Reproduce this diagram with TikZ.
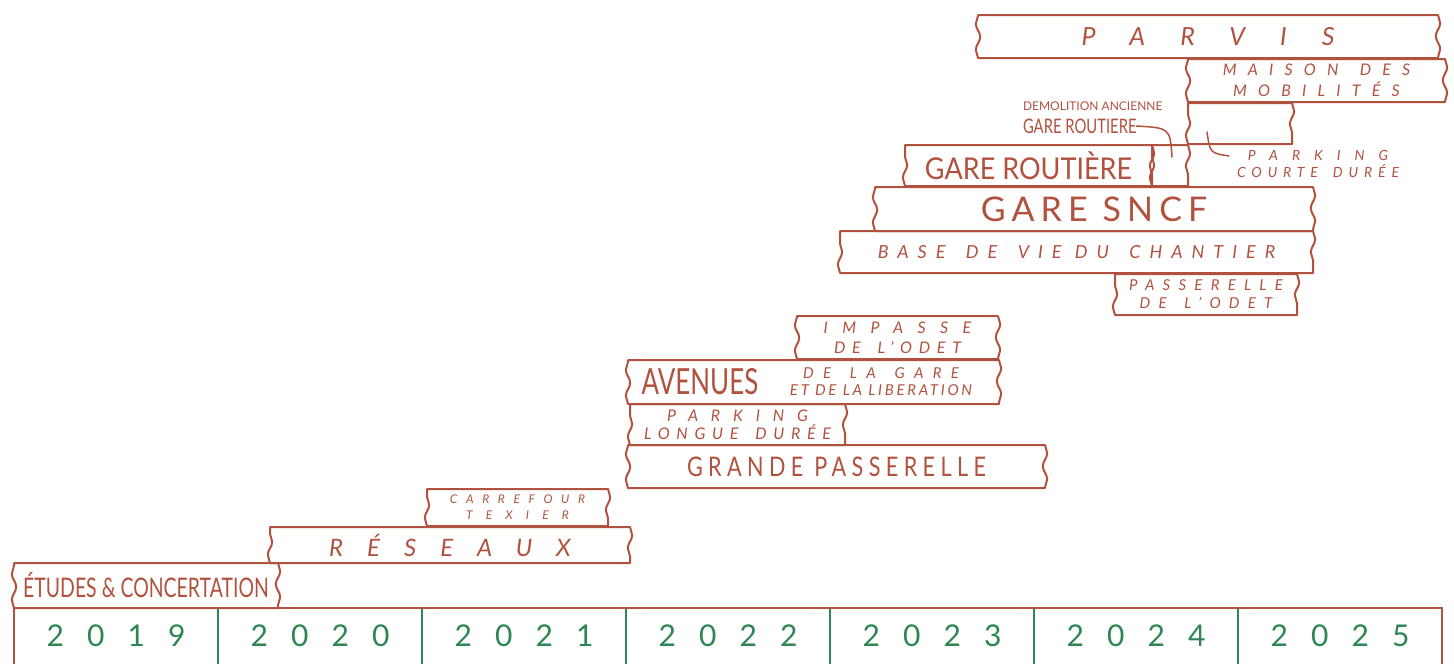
\documentclass[tikz,border=0pt]{standalone}
\usepackage{fontspec}
\setmainfont{Lato}
\usetikzlibrary{decorations.pathmorphing}
\definecolor{brick}{RGB}{177,82,62}
\definecolor{leaf}{RGB}{46,134,84}
\newcommand\ls[1]{\addfontfeature{LetterSpace=#1}}
\newcommand\fsz[2]{\fontsize{#1}{#2}\selectfont}
\newcommand\cond[1]{\addfontfeature{FakeStretch=#1}}
\newcommand\ws{\hspace{0.4em}}
\tikzset{
  wbox/.style={inner sep=0pt, outer sep=0pt, text=brick, align=center},
  wedge/.style={decoration={snake, segment length=26pt, amplitude=2.2pt}},
  bline/.style={draw=brick, line width=2pt, line join=round, line cap=round},
  leader/.style={draw=brick, line width=1.5pt, line cap=round},
  ycell/.style={inner sep=0pt, outer sep=0pt, minimum width=204pt, minimum height=56pt,
                text=leaf, font=\fsz{30}{30}\ls{77}},
  tline/.style={draw=brick, line width=2pt},
  gline/.style={draw=leaf, line width=2pt},
  lab/.style={inner sep=0pt, outer sep=0pt, text=brick, align=center},
}
% name, x1, y1, x2, y2, font, text
\newcommand\wb[7]{%
  \node[wbox, font=#6, minimum width={(#4-#2)*1pt}, minimum height={(#5-#3)*1pt}]
     (#1) at ({(#2+#4)/2},{(#3+#5)/2}) {#7};
  \draw[bline] (#1.north west) -- (#1.north east)
     decorate[wedge]{-- (#1.south east)} -- (#1.south west)
     decorate[wedge]{-- (#1.north west)};
}
\begin{document}
\begin{tikzpicture}[x=1pt, y=-1pt]
\useasboundingbox[fill=white] (0,0) rectangle (1454,664);

\wb{parvis}{978}{15}{1438}{58}{\itshape\fsz{25}{25}\ls{140}}{PARVIS}
\wb{maison}{1188}{59}{1445}{102}{\itshape\fsz{16}{21}\ls{70}}{MAISON\ws{} DES\\MOBILITÉS}
\wb{parkc}{1188}{103}{1292}{144}{\fsz{10}{10}}{}
\wb{demol}{1152}{145}{1188}{186}{\fsz{10}{10}}{}
\wb{routiere}{905}{145}{1152}{186}{\fsz{30}{30}\cond{0.9}}{GARE ROUTIÈRE}
\wb{sncf}{875}{187}{1313}{231}{\fsz{34}{34}\ls{18}}{GARE SNCF}
\wb{basevie}{840}{231}{1313}{273}{\itshape\fsz{18}{18}\ls{50}}{BASE\ws{} DE\ws{} VIE DU\ws{} CHANTIER}
\wb{passodet}{1115}{274}{1297}{315}{\itshape\fsz{15}{18}\ls{55}}{PASSERELLE\\DE\ws{} L’ODET}
\wb{impasse}{797}{316}{998}{359}{\itshape\fsz{16}{20}}{{\ls{90}IMPASSE}\\{\ls{42}DE\ws{} L’ODET}}
\wb{avenues}{628}{360}{999}{404}{\fsz{10}{10}}{}
\wb{parkl}{630}{404}{845}{445}{\itshape\fsz{16}{18}}{{\ls{80}PARKING}\\{\ls{42}LONGUE\ws{} DURÉE}}
\wb{grande}{628}{445}{1045}{488}{\fsz{27}{27}\addfontfeature{FakeStretch=0.8,LetterSpace=20}}{GRANDE PASSERELLE}
\wb{carrefour}{427}{489}{608}{526}{\itshape\fsz{12}{16}}{{\ls{72}CARREFOUR}\\{\ls{110}TEXIER}}
\wb{reseaux}{270}{527}{630}{563}{\itshape\fsz{24}{24}\ls{100}}{RÉSEAUX}
\wb{etudes}{14}{563}{278}{608}{\fsz{27}{27}\cond{0.72}}{ÉTUDES \& CONCERTATION}

% texts inside the Avenues box
\node[lab, font=\fsz{36}{36}\cond{0.72}] (avt) at (700,382) {AVENUES};
\node[lab, font=\itshape\fsz{15}{17}] (avs) at (881,382) {{\ls{62}DE\ws{} LA\ws{} GARE}\\{\ls{18}ET DE LA LIBERATION}};

% demolition label
\node[lab, anchor=west, font=\fsz{12}{12}] (dlab1) at (1023,106) {DEMOLITION ANCIENNE};
\node[lab, anchor=west, font=\fsz{20}{20}\cond{0.74}] (dlab2) at (1023,126) {GARE ROUTIERE};
\coordinate (dlend) at (1172,157);
\draw[leader] (dlab2.east) .. controls (1170,128) .. (dlend);

% parking courte duree label
\node[lab, font=\itshape\fsz{14}{17}] (pclab) at (1318,164) {{\ls{100}PARKING}\\{\ls{42}COURTE\ws{} DURÉE}};
\coordinate (pcstart) at (1207,132);
\coordinate (pcend) at (1229,156);
\draw[leader] (pcstart) .. controls (1210,153) .. (pcend);

% timeline
\node[ycell] (y2019) at (116,636) {2019};
\node[ycell] (y2020) at (320,636) {2020};
\node[ycell] (y2021) at (524,636) {2021};
\node[ycell] (y2022) at (728,636) {2022};
\node[ycell] (y2023) at (932,636) {2023};
\node[ycell] (y2024) at (1136,636) {2024};
\node[ycell] (y2025) at (1340,636) {2025};
\foreach \a in {2019,2020,2021,2022,2023,2024}
  \draw[gline] (y\a.north east) -- (y\a.south east);
\draw[tline] (y2019.south west) -- (y2019.north west) -- (y2025.north east) -- (y2025.south east);
\end{tikzpicture}
\end{document}
